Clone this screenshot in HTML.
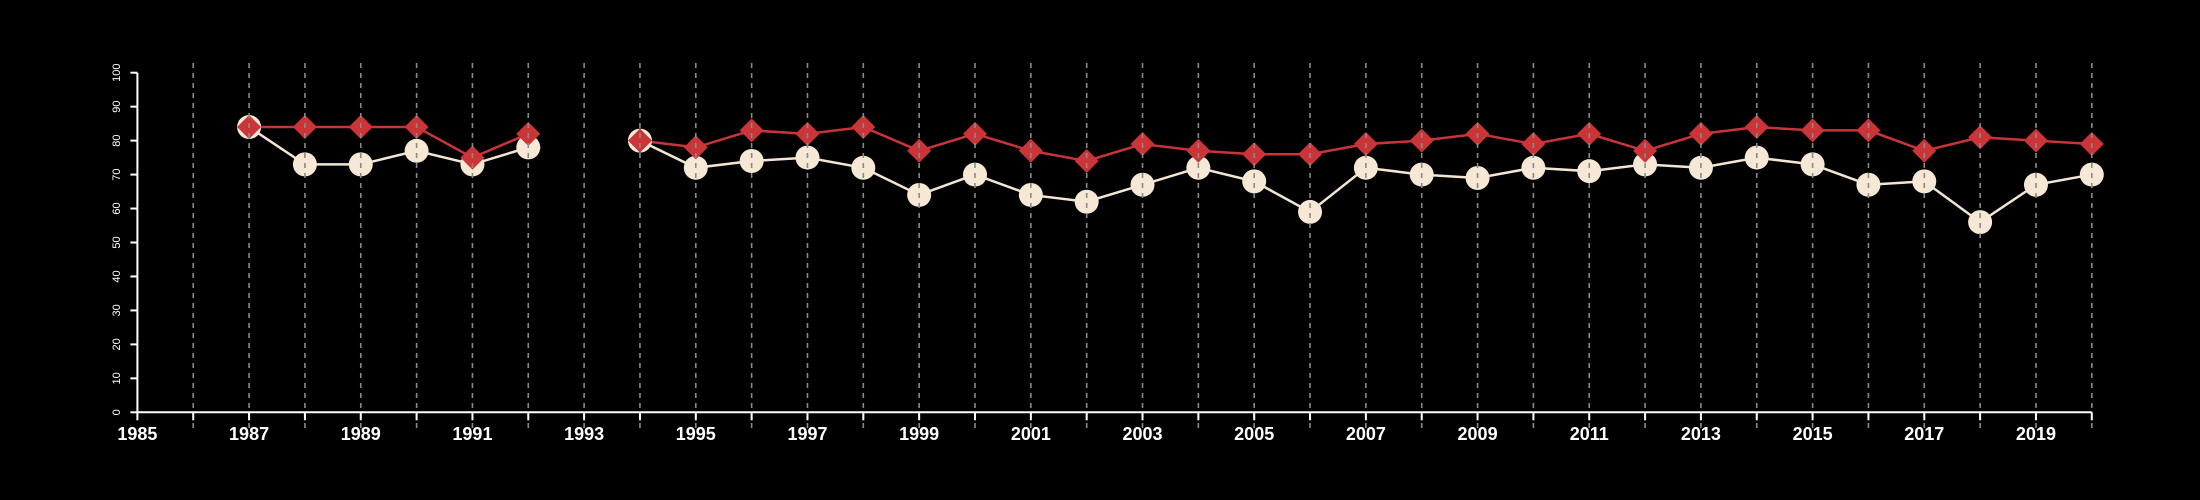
<!DOCTYPE html>
<html><head><meta charset="utf-8"><style>html,body{margin:0;padding:0;background:#000;}svg{display:block;}</style></head>
<body>
<svg id="chart" width="2200" height="500" xmlns="http://www.w3.org/2000/svg" style="background:#000">
<rect width="2200" height="500" fill="#000"/>
<g id="series"></g>
<g id="grid"></g>
<g id="axes"></g>
</svg>
<script>
const years = [1987,1988,1989,1990,1991,1992,1993,1994,1995,1996,1997,1998,1999,2000,2001,2002,2003,2004,2005,2006,2007,2008,2009,2010,2011,2012,2013,2014,2015,2016,2017,2018,2019,2020];
const whiteValues = [84,73,73,77,73,78,null,80,72,74,75,72,64,70,64,62,67,72,68,59,72,70,69,72,71,73,72,75,73,67,68,56,67,70];
const redValues = [84,84,84,84,75,82,null,80,78,83,82,84,77,82,77,74,79,77,76,76,79,80,82,79,82,77,82,84,83,83,77,81,80,79];
const xTickLabels = [1985,1987,1989,1991,1993,1995,1997,1999,2001,2003,2005,2007,2009,2011,2013,2015,2017,2019];
const yTickLabels = [0,10,20,30,40,50,60,70,80,90,100];

const NS = "http://www.w3.org/2000/svg";
const X0 = 137.4, XSTEP = 55.84, Y0 = 412.3, YTOP = 72.7;
const xScale = y => X0 + (y - 1985) * XSTEP;
const yScale = v => Y0 - v / 100 * (Y0 - YTOP);
function mk(tag, attrs, parent) {
  const e = document.createElementNS(NS, tag);
  for (const k in attrs) e.setAttribute(k, attrs[k]);
  parent.appendChild(e);
  return e;
}
const series = document.getElementById('series');
const grid = document.getElementById('grid');
const axes = document.getElementById('axes');

function drawLine(vals, color, name) {
  let seg = [];
  const segs = [];
  vals.forEach((v, i) => {
    if (v === null) { if (seg.length) segs.push(seg); seg = []; }
    else seg.push([xScale(years[i]), yScale(v)]);
  });
  if (seg.length) segs.push(seg);
  segs.forEach(s => {
    const p = mk('polyline', {points: s.map(q => q.join(',')).join(' '), fill: 'none', stroke: color, 'stroke-width': 2.5}, series);
    
    
  });
}
drawLine(whiteValues, '#f3e6d2', 'white-series-line');
drawLine(redValues, '#c9343a', 'red-series-line');
whiteValues.forEach((v, i) => {
  if (v === null) return;
  const c = mk('circle', {cx: xScale(years[i]), cy: yScale(v), r: 12, fill: '#f6e8d5'}, series);
  
  
});
redValues.forEach((v, i) => {
  if (v === null) return;
  const x = xScale(years[i]), y = yScale(v), r = 12;
  const d = mk('polygon', {points: `${x},${y-r} ${x+r},${y} ${x},${y+r} ${x-r},${y}`, fill: '#cc3538'}, series);
  
  
});
for (let yr = 1986; yr <= 2020; yr++) {
  const g = mk('line', {x1: xScale(yr), x2: xScale(yr), y1: 63, y2: 428, stroke: '#8a8a8a', 'stroke-width': 1.6, 'stroke-dasharray': '5,5'}, grid);
  
  
}
// axes
let a = mk('line', {x1: X0, x2: xScale(2020), y1: Y0, y2: Y0, stroke: '#fff', 'stroke-width': 2}, axes);


a = mk('line', {x1: X0, x2: X0, y1: YTOP, y2: Y0, stroke: '#fff', 'stroke-width': 2}, axes);


for (let yr = 1985; yr <= 2020; yr++) {
  const t = mk('line', {x1: xScale(yr), x2: xScale(yr), y1: Y0, y2: Y0 + 8, stroke: '#fff', 'stroke-width': 2}, axes);
  
  
}
xTickLabels.forEach(yr => {
  const t = mk('text', {x: xScale(yr), y: 440, fill: '#fff', 'font-family': 'Liberation Sans, sans-serif', 'font-size': 18, 'font-weight': 'bold', 'text-anchor': 'middle'}, axes);
  t.textContent = yr;
  
  
});
yTickLabels.forEach(v => {
  const y = yScale(v);
  const t = mk('line', {x1: X0 - 7, x2: X0, y1: y, y2: y, stroke: '#fff', 'stroke-width': 2}, axes);
  
  
  const l = mk('text', {x: 0, y: 0, fill: '#fff', 'font-family': 'Liberation Sans, sans-serif', 'font-size': 11, 'text-anchor': 'middle', transform: `translate(120,${y}) rotate(-90)`}, axes);
  l.textContent = v;
  
  
});
</script>
</body></html>
